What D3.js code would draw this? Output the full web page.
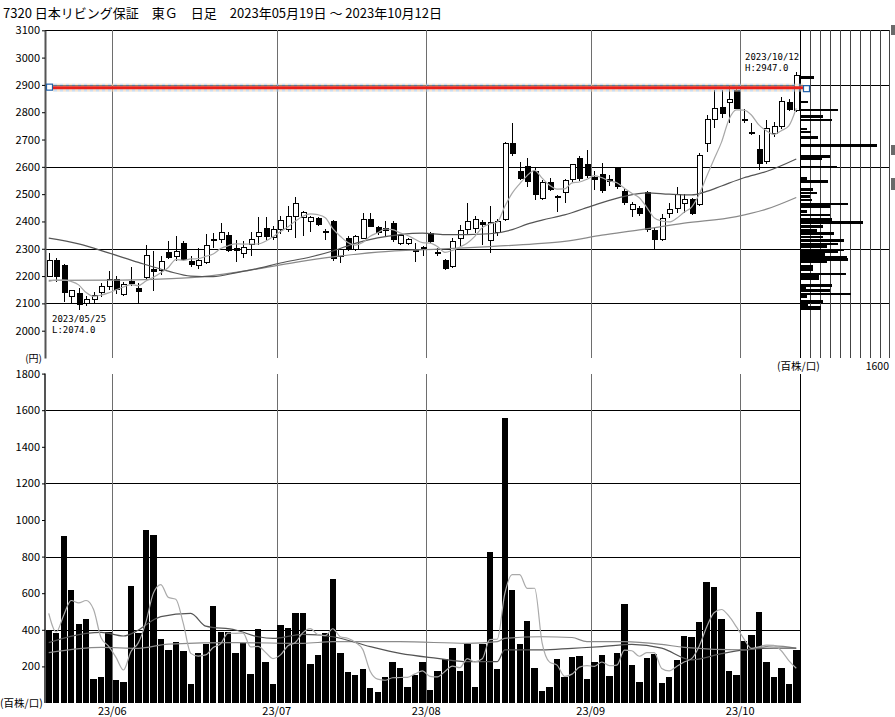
<!DOCTYPE html>
<html>
<head>
<meta charset="utf-8">
<script src="https://cdn.jsdelivr.net/npm/d3@7"></script>
<style>
  body { margin: 0; background: #fff; }
  svg text { font-family: "Noto Sans CJK JP", "Noto Sans", sans-serif; fill: #000; }
  svg text.note { font-family: "DejaVu Sans Mono", "Liberation Mono", monospace; }
</style>
</head>
<body>
<div id="chart"></div>
<script>
// ---- data ----
const dates = [
  "2023/05/19","2023/05/22","2023/05/23","2023/05/24","2023/05/25","2023/05/26","2023/05/29","2023/05/30","2023/05/31",
  "2023/06/01","2023/06/02","2023/06/05","2023/06/06","2023/06/07","2023/06/08","2023/06/09","2023/06/12","2023/06/13","2023/06/14","2023/06/15","2023/06/16",
  "2023/06/19","2023/06/20","2023/06/21","2023/06/22","2023/06/23","2023/06/26","2023/06/27","2023/06/28","2023/06/29","2023/06/30",
  "2023/07/03","2023/07/04","2023/07/05","2023/07/06","2023/07/07","2023/07/10","2023/07/11","2023/07/12","2023/07/13","2023/07/14",
  "2023/07/18","2023/07/19","2023/07/20","2023/07/21","2023/07/24","2023/07/25","2023/07/26","2023/07/27","2023/07/28","2023/07/31",
  "2023/08/01","2023/08/02","2023/08/03","2023/08/04","2023/08/07","2023/08/08","2023/08/09","2023/08/10","2023/08/14","2023/08/15","2023/08/16",
  "2023/08/17","2023/08/18","2023/08/21","2023/08/22","2023/08/23","2023/08/24","2023/08/25","2023/08/28","2023/08/29","2023/08/30","2023/08/31",
  "2023/09/01","2023/09/04","2023/09/05","2023/09/06","2023/09/07","2023/09/08","2023/09/11","2023/09/12","2023/09/13","2023/09/14","2023/09/15",
  "2023/09/19","2023/09/20","2023/09/21","2023/09/22","2023/09/25","2023/09/26","2023/09/27","2023/09/28","2023/09/29",
  "2023/10/02","2023/10/03","2023/10/04","2023/10/05","2023/10/06","2023/10/10","2023/10/11","2023/10/12"
];
const open = [2200,2258,2240,2125,2138,2101,2113,2140,2160,2189,2133,2180,2156,2196,2225,2220,2286,2270,2318,2253,2238,
  2250,2330,2335,2347,2300,2282,2317,2345,2375,2340,2370,2372,2418,2416,2400,2412,2365,2400,2272,2339,
  2296,2339,2408,2378,2373,2394,2320,2320,2292,2300,2357,2288,2257,2235,2339,2369,2375,2396,2330,2360,2406,
  2684,2583,2603,2583,2485,2542,2493,2506,2552,2632,2607,2560,2573,2555,2595,2510,2442,2448,2506,2367,2333,
  2430,2449,2465,2480,2461,2686,2774,2818,2835,2879,2775,2727,2664,2619,2723,2747,2835,2808];
const high = [2283,2265,2245,2150,2156,2128,2140,2176,2220,2200,2178,2235,2175,2314,2290,2275,2330,2345,2330,2275,2303,
  2355,2357,2394,2363,2333,2327,2360,2418,2416,2382,2420,2455,2489,2440,2420,2418,2372,2405,2300,2345,
  2350,2430,2430,2385,2400,2400,2350,2338,2320,2310,2362,2302,2262,2340,2388,2469,2420,2406,2457,2410,2690,
  2760,2619,2632,2600,2552,2560,2497,2555,2610,2640,2662,2583,2613,2570,2600,2520,2470,2455,2510,2375,2428,
  2467,2528,2500,2485,2650,2790,2882,2880,2900,2893,2810,2760,2717,2772,2766,2857,2850,2947];
const low = [2195,2180,2105,2100,2074,2092,2100,2125,2150,2135,2128,2165,2103,2190,2147,2205,2262,2255,2255,2235,2225,
  2245,2302,2321,2288,2253,2266,2272,2315,2333,2333,2355,2360,2340,2345,2360,2385,2333,2254,2247,2290,
  2290,2335,2378,2350,2345,2325,2315,2312,2250,2275,2320,2272,2223,2230,2308,2355,2357,2314,2286,2345,2400,
  2638,2550,2528,2479,2479,2510,2436,2467,2545,2548,2560,2516,2505,2530,2520,2460,2418,2420,2360,2294,2330,
  2412,2430,2430,2425,2455,2656,2741,2780,2760,2810,2760,2718,2589,2610,2710,2740,2805,2800];
const close = [2257,2200,2140,2147,2095,2116,2130,2162,2189,2150,2170,2172,2144,2274,2217,2253,2269,2290,2260,2242,2257,
  2311,2334,2360,2294,2292,2306,2335,2360,2345,2372,2405,2418,2467,2433,2416,2390,2362,2266,2296,2299,
  2345,2408,2382,2360,2367,2335,2347,2335,2289,2305,2327,2285,2228,2326,2367,2400,2406,2388,2395,2400,2686,
  2650,2558,2546,2497,2542,2518,2490,2549,2607,2558,2570,2555,2512,2545,2528,2469,2463,2430,2369,2335,2412,
  2445,2497,2480,2430,2640,2774,2814,2794,2847,2815,2770,2724,2611,2741,2747,2839,2811,2936];
const volume = [393,380,912,617,432,459,133,142,386,126,115,640,382,945,920,348,290,332,284,102,275,
  321,532,390,390,271,326,157,403,226,102,426,408,493,493,213,262,381,680,275,171,
  153,186,84,58,140,222,193,89,153,222,71,177,240,299,177,321,89,321,825,186,1557,
  617,321,450,190,67,89,239,144,250,257,129,222,262,149,271,539,206,113,248,268,109,
  140,235,368,359,444,663,632,457,175,151,337,372,499,222,144,190,105,290];

// moving averages (index, value)
const closeMA5Head = [2180,2185,2185,2180];
const priceMA25Idx = [0,4,8,12,16,19,22,25,28,31,35,38,41,44,47,50,53,56,59,62,64,66,69,73,77,80,83,86,88,90,93,96,100];
const priceMA25Val = [2339,2318,2285,2250,2218,2200,2198,2212,2228,2248,2270,2292,2320,2340,2352,2357,2352,2352,2355,2370,2390,2405,2424,2460,2492,2505,2500,2497,2510,2530,2560,2583,2629];
const priceMA75Idx = [0,8,14,20,27,33,38,44,52,59,65,69,74,79,85,92,96,100];
const priceMA75Val = [2184,2185,2188,2196,2222,2250,2270,2288,2299,2308,2318,2327,2350,2369,2394,2418,2445,2488];
const volMA5Head = [490,388,480,560];
const volMA25Idx = [0,5,7,10,12,14,15,19,21,25,28,30,34,38,43,47,52,56,60,61,66,70,74,78,82,86,90,93,97,100];
const volMA25Val = [330,380,386,366,399,454,472,490,420,399,362,353,375,362,308,271,244,226,226,290,290,299,308,320,300,236,270,290,300,300];
const volMA75Idx = [0,7,12,16,25,34,38,47,56,60,61,66,70,72,77,82,85,93,97,100];
const volMA75Val = [275,304,299,322,330,326,335,335,326,335,353,362,358,335,335,320,304,290,312,299];

// price-by-volume profile (price level, volume in 百株)
const profilePrice = [2928,2837,2808,2784,2772,2738,2728,2708,2678,2638,2628,2600,2558,2546,2516,2504,2491,2479,2464,2455,2436,2424,2408,2397,
  2381,2367,2357,2343,2330,2318,2308,2296,2288,2278,2269,2260,2251,2235,2223,2208,2198,2190,2166,2156,2147,2135,2125,2107,2095,2087,2080];
const profileVol = [280,160,760,460,640,140,220,360,1540,600,440,740,140,560,260,340,200,240,950,600,140,600,640,1260,
  460,340,680,460,880,760,540,880,760,500,940,960,540,260,260,920,380,380,640,120,600,1020,140,460,160,420,420];

const priceTicks = d3.range(2000, 3101, 100);
const priceGrid = [2100, 2300, 2600, 2900];
const volTicks = d3.range(200, 1801, 200);
const volGrid = [400, 800, 1200, 1600];
const linePrice = 2890;

const title = "7320 日本リビング保証　東Ｇ　日足　2023年05月19日 ～ 2023年10月12日";

// ---- chart ----
const W = 895, H = 717;
const svg = d3.select("#chart").append("svg").attr("width", W).attr("height", H);

const n = dates.length;
const x = d3.scaleBand().domain(d3.range(n)).range([45, 800]);
const bw = x.bandwidth();
const cx = i => x(i) + bw / 2;
const yP = d3.scaleLinear().domain([1900, 3100]).range([358, 30.3]);
const yV = d3.scaleLinear().domain([0, 1800]).range([703, 373.6]);
const xProf = d3.scaleLinear().domain([0, 1600]).range([800, 880]);

const closeMA5 = close.map((c, i) => i < 4 ? closeMA5Head[i] : d3.mean(close.slice(i - 4, i + 1)));
const volMA5 = volume.map((v, i) => i < 4 ? volMA5Head[i] : d3.mean(volume.slice(i - 4, i + 1)));

const monthStarts = d3.range(1, n).filter(i => dates[i].slice(5, 7) !== dates[i - 1].slice(5, 7));

svg.append("text").attr("x", 3).attr("y", 18).style("font-size", "13px").text(title);

// grid
const grid = svg.append("g").attr("shape-rendering", "crispEdges");
grid.selectAll("line.pg").data([3100].concat(priceGrid)).join("line")
  .attr("x1", 45).attr("x2", 889)
  .attr("y1", d => Math.round(yP(d)) + 0.5).attr("y2", d => Math.round(yP(d)) + 0.5)
  .attr("stroke", "#000");
grid.selectAll("line.vg").data(volGrid).join("line")
  .attr("x1", 45).attr("x2", 800)
  .attr("y1", d => Math.round(yV(d)) + 0.5).attr("y2", d => Math.round(yV(d)) + 0.5)
  .attr("stroke", "#000");
// profile columns
grid.selectAll("line.pc").data(d3.range(0, 1601, 200)).join("line")
  .attr("x1", d => Math.round(xProf(d)) + 0.5).attr("x2", d => Math.round(xProf(d)) + 0.5)
  .attr("y1", yP(3100)).attr("y2", yP(1900))
  .attr("stroke", d => d === 0 ? "#000" : "#444");
grid.append("line").attr("x1", 889.5).attr("x2", 889.5).attr("y1", yP(3100)).attr("y2", yP(1900)).attr("stroke", "#444");
grid.append("line").attr("x1", 800.5).attr("x2", 800.5).attr("y1", yV(1800)).attr("y2", yV(0)).attr("stroke", "#000");
// month lines
monthStarts.forEach(i => {
  [[yP(3100), yP(1900)], [yV(1800), yV(0)]].forEach(r => {
    grid.append("line").attr("x1", Math.round(x(i)) + 0.5).attr("x2", Math.round(x(i)) + 0.5)
      .attr("y1", r[0]).attr("y2", r[1]).attr("stroke", "#6e6e6e").attr("stroke-width", 1.5);
  });
});

// axes
const axP = svg.append("g").attr("transform", "translate(45,0)")
  .call(d3.axisLeft(yP).tickValues(priceTicks).tickSize(3).tickSizeOuter(0).tickPadding(2).tickFormat(d3.format("d")));
const axV = svg.append("g").attr("transform", "translate(45,0)")
  .call(d3.axisLeft(yV).tickValues(volTicks).tickSize(3).tickSizeOuter(0).tickPadding(2).tickFormat(d3.format("d")));
[axP, axV].forEach(a => {
  a.select(".domain").attr("stroke", "#555").attr("stroke-width", 2);
  a.selectAll("text").style("font-size", "11px").attr("font-family", null);
});
axV.select(".domain").attr("d", `M0,${yV(1800)}V${yV(0)}`);

// volume bars
svg.append("g").attr("shape-rendering", "crispEdges")
  .selectAll("rect").data(volume).join("rect")
  .attr("x", (d, i) => x(i) + 0.6).attr("width", bw - 1.1)
  .attr("y", d => yV(d)).attr("height", d => yV(0) - yV(d))
  .attr("fill", "#000");

// volume MAs
const lineV = d3.line().x(d => cx(d[0])).y(d => yV(d[1]));
const volLines = [
  { pts: volMA75Idx.map((k, j) => [k, volMA75Val[j]]), col: "#8a8a8a" },
  { pts: volMA25Idx.map((k, j) => [k, volMA25Val[j]]), col: "#555" },
  { pts: volMA5.map((v, i) => [i, v]), col: "#aaaaaa" }
];
svg.append("g").selectAll("path").data(volLines).join("path")
  .attr("d", d => lineV.curve(d3.curveMonotoneX)(d.pts))
  .attr("fill", "none").attr("stroke", d => d.col).attr("stroke-width", 1.2);

// profile bars
svg.append("g").attr("shape-rendering", "crispEdges")
  .selectAll("rect").data(profileVol).join("rect")
  .attr("x", xProf(0)).attr("width", d => xProf(d) - xProf(0))
  .attr("y", (d, i) => yP(profilePrice[i]) - 1.3).attr("height", 2.6)
  .attr("fill", "#000");

// candles
const cg = svg.append("g").attr("shape-rendering", "crispEdges");
cg.selectAll("line").data(d3.range(n)).join("line")
  .attr("x1", i => Math.round(cx(i)) + 0.5).attr("x2", i => Math.round(cx(i)) + 0.5)
  .attr("y1", i => yP(high[i])).attr("y2", i => yP(low[i]))
  .attr("stroke", "#000");
cg.selectAll("rect").data(d3.range(n)).join("rect")
  .attr("x", i => Math.round(cx(i)) - 2)
  .attr("width", 5)
  .attr("y", i => yP(Math.max(open[i], close[i])))
  .attr("height", i => Math.max(1, Math.abs(yP(open[i]) - yP(close[i]))))
  .attr("fill", i => close[i] >= open[i] ? "#fff" : "#000")
  .attr("stroke", "#000");

// price MAs
const lineP = d3.line().x(d => cx(d[0])).y(d => yP(d[1])).curve(d3.curveMonotoneX);
const priceLines = [
  { pts: priceMA75Idx.map((k, j) => [k, priceMA75Val[j]]), col: "#8a8a8a" },
  { pts: priceMA25Idx.map((k, j) => [k, priceMA25Val[j]]), col: "#555" },
  { pts: closeMA5.map((v, i) => [i, v]), col: "#a8a8a8" }
];
svg.append("g").selectAll("path").data(priceLines).join("path")
  .attr("d", d => lineP(d.pts))
  .attr("fill", "none").attr("stroke", d => d.col).attr("stroke-width", 1.2);

// horizontal drawn line with selection halo
const defs = svg.append("defs");
const pat = defs.append("pattern").attr("id", "halo").attr("width", 6).attr("height", 8).attr("patternUnits", "userSpaceOnUse");
pat.append("rect").attr("width", 3).attr("height", 8).attr("fill", "#a9c8e8");
pat.append("rect").attr("x", 3).attr("width", 3).attr("height", 8).attr("fill", "#f0d2b0");
const ly = yP(linePrice);
svg.append("rect").attr("x", 53).attr("width", 750).attr("y", ly - 4).attr("height", 8)
  .attr("fill", "url(#halo)").attr("opacity", 0.6);
svg.append("line").attr("x1", 53).attr("x2", 803).attr("y1", ly).attr("y2", ly)
  .attr("stroke", "#e8201a").attr("stroke-width", 3);
[[46.5, ly - 3.5], [803.5, ly - 2]].forEach(p => {
  svg.append("rect").attr("x", p[0]).attr("y", p[1]).attr("width", 6).attr("height", 6)
    .attr("fill", "#fff").attr("stroke", "#1f5fa8").attr("stroke-width", 1.2);
});

// high / low notes
const hiIdx = d3.maxIndex(high), loIdx = d3.minIndex(low);
function note(x0, y0, l1, l2) {
  svg.append("text").attr("class", "note").attr("x", x0).attr("y", y0).style("font-size", "9px").text(l1);
  svg.append("text").attr("class", "note").attr("x", x0).attr("y", y0 + 11.5).style("font-size", "9px").text(l2);
}
note(745, 59.5, dates[hiIdx], "H:" + high[hiIdx].toFixed(1));
note(52, 321.5, dates[loIdx], "L:" + low[loIdx].toFixed(1));

// unit labels
svg.append("text").attr("x", 42).attr("y", 362).attr("text-anchor", "end").style("font-size", "10px").text("(円)");
svg.append("text").attr("x", 0).attr("y", 707).style("font-size", "10.5px").text("(百株/口)");
svg.append("text").attr("x", 777).attr("y", 370).style("font-size", "10.5px").text("(百株/口)");
svg.append("text").attr("x", 889).attr("y", 370).attr("text-anchor", "end").style("font-size", "10.5px").text("1600");

// month labels
svg.append("g").selectAll("text").data(monthStarts).join("text")
  .attr("x", i => x(i)).attr("y", 715).attr("text-anchor", "middle").style("font-size", "11px")
  .text(i => dates[i].slice(2, 4) + "/" + dates[i].slice(5, 7));

// right edge markers
[[25, 10], [145, 10], [178, 12]].forEach(m => {
  svg.append("rect").attr("x", 891).attr("y", m[0]).attr("width", 4).attr("height", m[1]).attr("fill", "#6a6a6a");
});
</script>
</body>
</html>
